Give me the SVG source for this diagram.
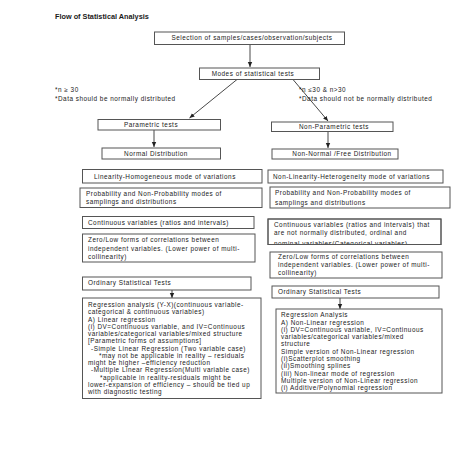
<svg xmlns="http://www.w3.org/2000/svg" width="453" height="453" viewBox="0 0 453 453">
<style>
text{font-family:"Liberation Sans",Arial,sans-serif;font-size:6.4px;letter-spacing:0.5px;fill:#1a1a1a}
.title{font-weight:bold;font-size:7.3px;letter-spacing:0}
.c{text-anchor:middle}
rect{fill:#fff;stroke:#555;stroke-width:1}
.ln{stroke:#333;stroke-width:0.9;fill:none}
</style>
<defs>
<marker id="ah" markerWidth="6" markerHeight="6" refX="5" refY="3" orient="auto" markerUnits="userSpaceOnUse">
<path d="M0,0.8 L5,3 L0,5.2 Z" fill="#222"/>
</marker>
<clipPath id="clipC"><rect x="268" y="219" width="173" height="25.5"/></clipPath>
</defs>
<rect x="0" y="0" width="453" height="453" style="fill:#fff;stroke:none"/>
<text class="title" x="55" y="18.5">Flow of  Statistical  Analysis</text>

<g id="connectors">
<line class="ln" x1="250" y1="44.5" x2="250" y2="67" marker-end="url(#ah)"/>
<line class="ln" x1="237" y1="79.5" x2="189.5" y2="118" marker-end="url(#ah)"/>
<line class="ln" x1="293" y1="79.5" x2="328" y2="121" marker-end="url(#ah)"/>
<line class="ln" x1="154" y1="130" x2="154" y2="147" marker-end="url(#ah)"/>
<line class="ln" x1="328" y1="131.5" x2="328" y2="148" marker-end="url(#ah)"/>
<line class="ln" x1="172" y1="290" x2="172" y2="298" marker-end="url(#ah)"/>
<line class="ln" x1="340" y1="298" x2="340" y2="309" marker-end="url(#ah)"/>
</g>

<g id="selection">
<rect x="154.5" y="32" width="190" height="12.5"/>
<text class="c" x="252" y="40.4">Selection of samples/cases/observation/subjects</text>
</g>
<g id="modes">
<rect x="199.5" y="68" width="120" height="11.5"/>
<text class="c" x="253" y="76.1">Modes   of  statistical tests</text>
</g>
<g id="note-left">
<text x="55" y="92.2">*n ≥ 30</text>
<text x="55" y="101.2">*Data should be normally distributed</text>
</g>
<g id="note-right">
<text x="299" y="92.2">*n ≤30 &amp; n&gt;30</text>
<text x="299" y="101.2">*Data should not be normally distributed</text>
</g>
<g id="parametric">
<rect x="98" y="119.5" width="122.5" height="10.5"/>
<text class="c" x="151" y="127">Parametric tests</text>
</g>
<g id="normal">
<rect x="102" y="148" width="118.5" height="11"/>
<text class="c" x="156" y="155.8">Normal   Distribution</text>
</g>
<g id="nonparametric">
<rect x="271.5" y="122" width="121.5" height="9.5"/>
<text class="c" x="334" y="129">Non-Parametric tests</text>
</g>
<g id="nonnormal">
<rect x="272" y="149" width="126" height="10"/>
<text class="c" x="342" y="156.3">Non-Normal /Free Distribution</text>
</g>

<g id="linearity">
<rect x="82.5" y="169.5" width="179.5" height="13.5"/>
<text x="94" y="178.5">Linearity-Homogeneous mode of variations</text>
</g>
<g id="nonlinearity">
<rect x="268" y="170" width="175" height="13"/>
<text x="273" y="178.5">Non-Linearity-Heterogeneity mode of variations</text>
</g>
<g id="prob-left">
<rect x="80" y="188" width="182" height="19.5"/>
<text x="86" y="196.1">Probability and Non-Probability modes of</text>
<text x="86" y="204.1">samplings and distributions</text>
</g>
<g id="prob-right">
<rect x="270" y="187" width="180" height="21"/>
<text x="275" y="195.3">Probability and Non-Probability modes of</text>
<text x="275" y="204.8">samplings and distributions</text>
</g>
<g id="cont-left">
<rect x="82.5" y="216.5" width="171.5" height="12"/>
<text x="88" y="224.5">Continuous variables (ratios and intervals)</text>
</g>
<g id="cont-right">
<rect x="268" y="219" width="173" height="25.5"/>
<g clip-path="url(#clipC)">
<text x="274" y="227.3">Continuous variables (ratios and intervals) that</text>
<text x="274" y="235.3">are not normally distributed, ordinal and</text>
<text x="274" y="245.8">nominal variables(Categorical variables)</text>
</g>
<rect x="268" y="219" width="173" height="25.5" style="fill:none"/>
</g>
<g id="zero-left">
<rect x="82.5" y="234" width="172.5" height="28"/>
<text x="88" y="242.3">Zero/Low forms of correlations between</text>
<text x="88" y="250.8">independent variables. (Lower power of multi-</text>
<text x="88" y="259.3">collinearity)</text>
</g>
<g id="zero-right">
<rect x="270" y="252" width="172" height="26"/>
<text x="278" y="259.3">Zero/Low forms of correlations between</text>
<text x="278" y="267.3">independent variables. (Lower power of multi-</text>
<text x="278" y="275">collinearity)</text>
</g>
<g id="ordinary-left">
<rect x="82.5" y="277" width="168.5" height="13"/>
<text x="88" y="284.8">Ordinary  Statistical  Tests</text>
</g>
<g id="ordinary-right">
<rect x="272" y="286" width="167" height="12"/>
<text x="278" y="293.8">Ordinary  Statistical  Tests</text>
</g>
<g id="regression-left">
<rect x="82.5" y="298" width="178.5" height="100.5"/>
<text x="88" y="307.2">Regression analysis (Y-X)(continuous variable-</text>
<text x="88" y="314.45">categorical &amp; continuous variables)</text>
<text x="88" y="321.7">A) Linear regression</text>
<text x="88" y="328.95">(i) DV=Continuous variable, and IV=Continuous</text>
<text x="88" y="336.2">variables/categorical variables/mixed structure</text>
<text x="88" y="343.45">[Parametric forms of assumptions]</text>
<text x="91" y="350.7">-Simple Linear Regression (Two variable case)</text>
<text x="99" y="357.95">*may not be applicable in reality – residuals</text>
<text x="88" y="365.2">might be higher –efficiency reduction</text>
<text x="91" y="372.45">-Multiple Linear Regression(Multi variable case)</text>
<text x="100" y="379.7">*applicable in reality-residuals might be</text>
<text x="88" y="386.95">lower-expansion of efficiency – should be tied up</text>
<text x="88" y="394.2">with diagnostic testing</text>
</g>
<g id="regression-right">
<rect x="276" y="309" width="166" height="84"/>
<text x="281" y="317.2">Regression   Analysis</text>
<text x="281" y="324.5">A) Non-Linear regression</text>
<text x="281" y="331.8">(i) DV=Continuous variable, IV=Continuous</text>
<text x="281" y="339.1">variables/categorical variables/mixed</text>
<text x="281" y="346.4">structure</text>
<text x="281" y="353.7">Simple version of Non-Linear regression</text>
<text x="281" y="361">(i)Scatterplot smoothing</text>
<text x="281" y="368.3">(ii)Smoothing  splines</text>
<text x="281" y="375.6">(iii) Non-linear mode of regression</text>
<text x="281" y="382.9">Multiple version  of Non-Linear regression</text>
<text x="281" y="390.2">(i) Additive/Polynomial regression</text>
</g>
</svg>
